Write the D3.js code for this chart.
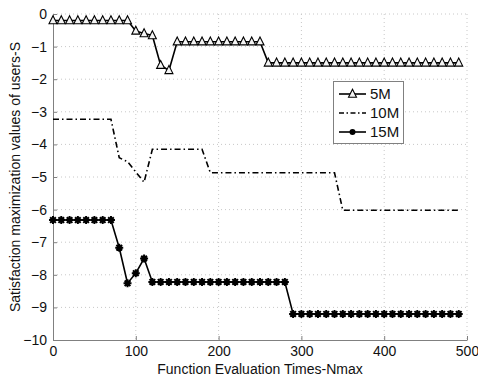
<!DOCTYPE html>
<html><head><meta charset="utf-8">
<script src="https://cdn.jsdelivr.net/npm/d3@7"></script>
<style>body{margin:0;background:#fff;} text{font-family:"Liberation Sans",Arial,sans-serif;}</style>
</head><body><svg id="c" width="478" height="377"></svg>
<script>
const xTicks = [0,100,200,300,400,500];
const yTicks = [0,-1,-2,-3,-4,-5,-6,-7,-8,-9,-10];
const xMarked = [0,10,20,30,40,50,60,70,80,90,100,110,120,130,140,150,160,170,180,190,200,210,220,230,240,250,260,270,280,290,300,310,320,330,340,350,360,370,380,390,400,410,420,430,440,450,460,470,480,490];
const s5M = [-0.2,-0.2,-0.2,-0.2,-0.2,-0.2,-0.2,-0.2,-0.2,-0.2,
  -0.52,-0.6,-0.66,-1.57,-1.73,
  -0.85,-0.85,-0.85,-0.85,-0.85,-0.85,-0.85,-0.85,-0.85,-0.85,-0.85,
  -1.5,-1.5,-1.5,-1.5,-1.5,-1.5,-1.5,-1.5,-1.5,-1.5,-1.5,-1.5,-1.5,-1.5,-1.5,-1.5,-1.5,-1.5,-1.5,-1.5,-1.5,-1.5,-1.5,-1.5];
const x10M = [0,70,80,90,110,120,180,190,340,350,490];
const s10M = [-3.23,-3.23,-4.41,-4.53,-5.16,-4.15,-4.15,-4.87,-4.87,-6.02,-6.02];
const s15M = [-6.32,-6.32,-6.32,-6.32,-6.32,-6.32,-6.32,-6.32,
  -7.17,-8.26,-7.95,-7.5,
  -8.22,-8.22,-8.22,-8.22,-8.22,-8.22,-8.22,-8.22,-8.22,-8.22,-8.22,-8.22,-8.22,-8.22,-8.22,-8.22,-8.22,
  -9.2,-9.2,-9.2,-9.2,-9.2,-9.2,-9.2,-9.2,-9.2,-9.2,-9.2,-9.2,-9.2,-9.2,-9.2,-9.2,-9.2,-9.2,-9.2,-9.2,-9.2];
const legendLabels = ["5M","10M","15M"];
const xTitle = "Function Evaluation Times-Nmax";
const yTitle = "Satisfaction maximization values of users-S";

const svg = d3.select("#c");
const L=53, R=467, T=14, B=340;
const x = d3.scaleLinear().domain([0,500]).range([L,R]);
const y = d3.scaleLinear().domain([-10,0]).range([B,T]);

// grid
const g = svg.append("g");
g.selectAll(".gx").data(xTicks.slice(1)).join("line")
  .attr("x1",d=>x(d)).attr("x2",d=>x(d)).attr("y1",T).attr("y2",B)
  .attr("stroke","#c8c8c8").attr("stroke-width",1).attr("stroke-dasharray","1,3");
g.selectAll(".gy").data(yTicks.slice(0,-1)).join("line")
  .attr("x1",L).attr("x2",R).attr("y1",d=>y(d)).attr("y2",d=>y(d))
  .attr("stroke","#c8c8c8").attr("stroke-width",1).attr("stroke-dasharray","1,3");

// axes
const xa = svg.append("g").attr("transform",`translate(0,${B})`)
  .call(d3.axisBottom(x).tickValues(xTicks).tickSizeInner(-4).tickSizeOuter(0).tickPadding(6));
const ya = svg.append("g").attr("transform",`translate(${L},0)`)
  .call(d3.axisLeft(y).tickValues(yTicks).tickSizeInner(-4).tickSizeOuter(0).tickPadding(6));
[xa,ya].forEach(a=>{
  a.select(".domain").attr("stroke","#808080");
  a.selectAll(".tick line").attr("stroke","#808080");
  a.selectAll("text").attr("font-size",14).attr("fill","#111")
   .attr("font-family","Liberation Sans, Arial, sans-serif");
});
xa.selectAll("text").attr("dy","0.71em");

svg.append("text").attr("x",(L+R)/2).attr("y",373.5).attr("text-anchor","middle")
  .attr("font-size",14).attr("fill","#111").text(xTitle);
svg.append("text").attr("transform",`translate(20,${(T+B)/2}) rotate(-90)`)
  .attr("text-anchor","middle").attr("font-size",14).attr("fill","#111").text(yTitle);

const line = d3.line().x(d=>x(d[0])).y(d=>y(d[1]));
const d5 = xMarked.map((v,i)=>[v,s5M[i]]);
const d10 = x10M.map((v,i)=>[v,s10M[i]]);
const d15 = xMarked.map((v,i)=>[v,s15M[i]]);

svg.append("path").datum(d10).attr("d",line).attr("fill","none").attr("stroke","#000")
  .attr("stroke-width",1.6).attr("stroke-dasharray","6,3,1.5,3");
svg.append("path").datum(d5).attr("d",line).attr("fill","none").attr("stroke","#000").attr("stroke-width",1.6);
svg.append("path").datum(d15).attr("d",line).attr("fill","none").attr("stroke","#000").attr("stroke-width",1.6);

function tri(cx,cy,s){return `M${cx},${cy-s*0.6}L${cx+s/2},${cy+s*0.4}L${cx-s/2},${cy+s*0.4}Z`;}
svg.append("g").selectAll("path").data(d5).join("path")
  .attr("d",d=>tri(x(d[0]),y(d[1]),8)).attr("fill","#f4f4f4").attr("stroke","#000").attr("stroke-width",1.1);

function star(cx,cy,r){
  let p="";
  for(let k=0;k<4;k++){const a=k*Math.PI/4;const dx=r*Math.cos(a),dy=r*Math.sin(a);
    p+=`M${cx-dx},${cy-dy}L${cx+dx},${cy+dy}`;}
  return p;
}
const sg = svg.append("g");
sg.selectAll("path").data(d15).join("path")
  .attr("d",d=>star(x(d[0]),y(d[1]),4)).attr("stroke","#000").attr("stroke-width",2).attr("fill","none");
sg.selectAll("circle").data(d15).join("circle")
  .attr("cx",d=>x(d[0])).attr("cy",d=>y(d[1])).attr("r",2.6).attr("fill","#000");

// legend
const lg = svg.append("g");
lg.append("rect").attr("x",333.5).attr("y",81.5).attr("width",70).attr("height",62)
  .attr("fill","#fff").attr("stroke","#808080").attr("stroke-width",1);
const ly = [94,113,132];
legendLabels.forEach((lab,i)=>{
  const ln = lg.append("line").attr("x1",339).attr("x2",366).attr("y1",ly[i]).attr("y2",ly[i])
    .attr("stroke","#000").attr("stroke-width",1.6);
  if(i===1) ln.attr("stroke-dasharray","5,2.5,1.5,2.5").attr("stroke-width",1.4);
  if(i===0) lg.append("path").attr("d",tri(352.5,ly[i],8)).attr("fill","#f4f4f4").attr("stroke","#000").attr("stroke-width",1.1);
  if(i===2) lg.append("circle").attr("cx",352.5).attr("cy",ly[i]).attr("r",3).attr("fill","#000");
  lg.append("text").attr("x",370).attr("y",ly[i]).attr("dy","0.36em").attr("font-size",15).attr("fill","#111").text(lab);
});
</script></body></html>
